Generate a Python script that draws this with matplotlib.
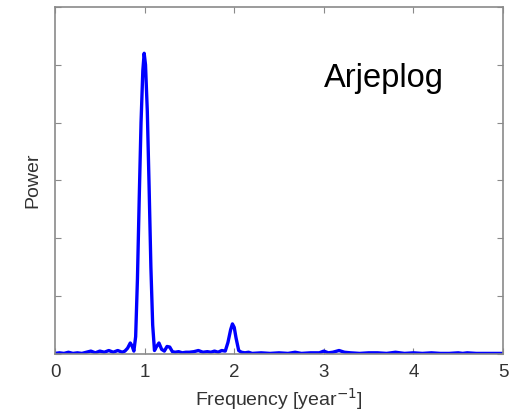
import matplotlib
matplotlib.use("Agg")
import matplotlib.pyplot as plt

# Power spectrum of the Arjeplog series
frequency = [0.00, 0.05, 0.10, 0.15, 0.20, 0.25, 0.30, 0.35, 0.40, 0.45, 0.50, 0.55,
             0.60, 0.65, 0.70, 0.75, 0.78, 0.81, 0.84, 0.86, 0.88, 0.90, 0.92, 0.94,
             0.96, 0.98, 0.995, 1.01, 1.03, 1.05, 1.07, 1.09, 1.11, 1.13, 1.16, 1.19,
             1.22, 1.25, 1.28, 1.31, 1.34, 1.38, 1.42, 1.46, 1.50, 1.55, 1.60, 1.65,
             1.70, 1.74, 1.78, 1.82, 1.86, 1.90, 1.93, 1.96, 1.98, 2.00, 2.02, 2.05,
             2.08, 2.12, 2.16, 2.20, 2.30, 2.40, 2.50, 2.60, 2.68, 2.75, 2.85, 2.95,
             3.00, 3.05, 3.10, 3.17, 3.23, 3.30, 3.40, 3.50, 3.60, 3.70, 3.80, 3.85,
             3.90, 4.00, 4.10, 4.20, 4.30, 4.40, 4.50, 4.55, 4.60, 4.70, 4.80, 4.90, 5.00]
power = [0.01, 0.02, 0.01, 0.03, 0.01, 0.02, 0.01, 0.03, 0.05, 0.02, 0.05, 0.03,
         0.06, 0.03, 0.06, 0.03, 0.05, 0.10, 0.19, 0.14, 0.05, 0.30, 1.30, 2.70,
         4.00, 4.90, 5.20, 5.00, 4.20, 2.90, 1.50, 0.50, 0.06, 0.12, 0.19, 0.08,
         0.05, 0.13, 0.12, 0.04, 0.03, 0.04, 0.02, 0.03, 0.03, 0.04, 0.06, 0.03,
         0.04, 0.03, 0.05, 0.03, 0.06, 0.05, 0.20, 0.42, 0.52, 0.46, 0.28, 0.06,
         0.03, 0.02, 0.03, 0.01, 0.02, 0.01, 0.02, 0.01, 0.03, 0.01, 0.02, 0.02,
         0.05, 0.02, 0.03, 0.06, 0.03, 0.02, 0.01, 0.02, 0.02, 0.01, 0.03, 0.02,
         0.01, 0.02, 0.01, 0.02, 0.01, 0.01, 0.02, 0.01, 0.02, 0.01, 0.01, 0.01, 0.01]

x_ticks = [0, 1, 2, 3, 4, 5]
y_ticks = [0, 1, 2, 3, 4, 5, 6]
station = "Arjeplog"

plt.rcParams['font.family'] = ['Liberation Sans', 'DejaVu Sans']

fig = plt.figure(figsize=(5.17, 4.13), dpi=100)
ax = fig.add_axes([0.1064, 0.1429, 0.8666, 0.8402])

ax.plot(frequency, power, color=(0, 0, 1), linewidth=2.4, solid_joinstyle='round')

ax.set_xlim(0, 5)
ax.set_ylim(0, 6)
ax.set_xticks(x_ticks)
ax.set_yticks(y_ticks)
ax.set_yticklabels([])

frame_gray = '#8a8a8a'
for side in ax.spines.values():
    side.set_color(frame_gray)
    side.set_linewidth(1.2)
ax.tick_params(direction='in', top=True, right=True, length=4, width=0.8,
               color=frame_gray, labelsize=13.5, labelcolor='#333333', pad=7)

ax.set_xlabel('Frequency [year$^{-1}$]', fontsize=14, color='#333333', va='center')
ax.xaxis.set_label_coords(0.5, -0.13)
ax.set_ylabel('Power', fontsize=14, color='#333333', va='center')
ax.yaxis.set_label_coords(-0.049, 0.5)

ax.text(3.0, 4.76, station, fontsize=23.5, color='black', ha='left', va='center')

fig.savefig('out.png', dpi=100)
